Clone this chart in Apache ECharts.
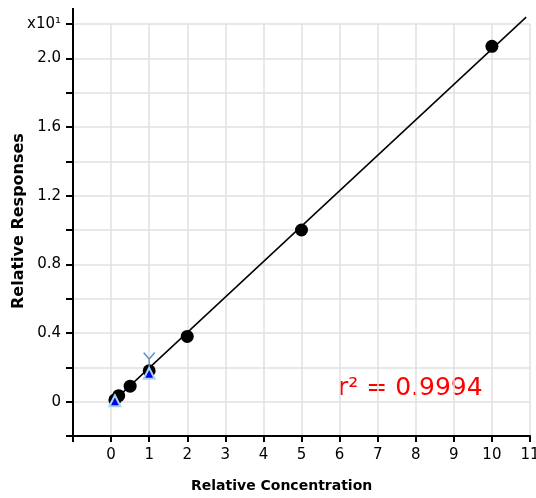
<!DOCTYPE html>
<html>
<head>
<meta charset="utf-8">
<script src="https://cdn.jsdelivr.net/npm/echarts@6/dist/echarts.min.js"></script>
<style>
  html, body { margin: 0; padding: 0; background: #fff; }
  #chart { width: 536px; height: 498px; }
</style>
</head>
<body>
<div id="chart"></div>
<script>
// calibration points
const circleX = [0.1, 0.2, 0.5, 1, 2, 5, 10]
const circleY = [0.01, 0.035, 0.09, 0.18, 0.38, 1.0, 2.07]
const triangleX = [0.1, 1]
const triangleY = [0.005, 0.165]
const starX = [1]
const starY = [0.245]
// fitted line
const fitX = [0.05, 10.9]
const fitY = [0.0, 2.24]

const font = 'DejaVu Sans'
const chart = echarts.init(document.getElementById('chart'))

const zip = (xs, ys) => xs.map((x, i) => [x, ys[i]])

const option = {
  backgroundColor: '#fff',
  animation: false,
  grid: { left: 73, right: 6, top: 24, bottom: 62, outerBoundsMode: 'none' },
  xAxis: {
    type: 'value',
    min: -1,
    max: 11,
    interval: 1,
    axisLine: { onZero: false, lineStyle: { color: '#000', width: 2 } },
    axisTick: { inside: false, length: 6, lineStyle: { color: '#000', width: 2 } },
    axisLabel: {
      color: '#000', fontFamily: font, fontSize: 15, margin: 12,
      formatter: v => (v < 0 ? '' : String(v))
    },
    splitLine: { show: true, lineStyle: { color: '#e0e0e0', width: 1.5 } }
  },
  yAxis: {
    type: 'value',
    min: -0.2,
    max: 2.2,
    interval: 0.2,
    axisLine: { onZero: false, lineStyle: { color: '#000', width: 2 } },
    axisTick: { length: 7, lineStyle: { color: '#000', width: 2 } },
    axisLabel: {
      color: '#000', fontFamily: font, fontSize: 15, margin: 12,
      formatter: v => {
        const r = Math.round(v * 10) / 10
        if (Math.abs(r - 2.2) < 1e-6) return 'x10¹'
        if (Math.abs(r) < 1e-6) return '0'
        if (r > 0 && Math.abs(Math.round(r * 10) % 4) === 0) return r.toFixed(1)
        return ''
      }
    },
    splitLine: { show: true, lineStyle: { color: '#e0e0e0', width: 1.5 } }
  },
  graphic: [
    { type: 'line', shape: { x1: 73, y1: 8, x2: 73, y2: 24 }, style: { stroke: '#000', lineWidth: 2 } },
    {
      type: 'text', left: 338, top: 376,
      style: { text: 'r² = 0.9994', fill: '#ff0000', font: '25px "DejaVu Sans"' }
    },
    {
      type: 'text', left: 191, top: 479,
      style: { text: 'Relative Concentration', fill: '#000', font: 'bold 14px "DejaVu Sans"' }
    },
    {
      type: 'text', x: 11, y: 309, rotation: Math.PI / 2,
      style: { text: 'Relative Responses', fill: '#000', font: 'bold 16px "DejaVu Sans"' }
    }
  ],
  series: [
    {
      type: 'line',
      data: zip(fitX, fitY),
      symbol: 'none',
      clip: false,
      lineStyle: { color: '#000', width: 1.5 },
      z: 2
    },
    {
      type: 'scatter',
      data: zip(circleX, circleY),
      symbol: 'circle',
      symbolSize: 13,
      itemStyle: { color: '#000', opacity: 1 },
      z: 3
    },
    {
      type: 'scatter',
      data: zip(triangleX, triangleY),
      symbol: 'triangle',
      symbolSize: 11,
      itemStyle: { color: '#0000ee', borderColor: '#a8d4f0', borderWidth: 2, opacity: 1 },
      z: 4
    },
    {
      type: 'scatter',
      data: zip(starX, starY),
      symbol: 'path://M0,0L5,6L10,0M5,6L5,13',
      symbolSize: [11, 14],
      itemStyle: { color: 'none', borderColor: '#5b8fc7', borderWidth: 1.5, opacity: 1 },
      z: 5
    }
  ]
}

chart.setOption(option)
</script>
</body>
</html>
